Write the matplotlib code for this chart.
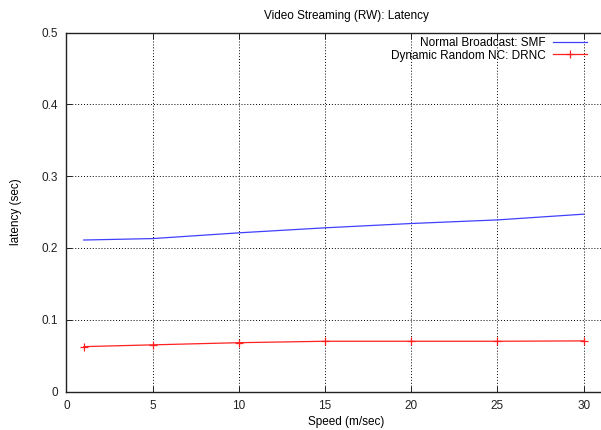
#!/usr/bin/env python3
"""
Video streaming latency vs node speed, SMF against DRNC (gnuplot-like look).
"""

import matplotlib
matplotlib.use('Agg')
import matplotlib.pyplot as plt

plt.rcParams['font.family'] = ['Liberation Sans', 'DejaVu Sans']

# Data
speed = [1, 5, 10, 15, 20, 25, 30]
latency_smf = [0.211, 0.213, 0.221, 0.228, 0.234, 0.239, 0.247]
latency_drnc = [0.0625, 0.065, 0.068, 0.070, 0.070, 0.070, 0.0705]

x_ticks = [0, 5, 10, 15, 20, 25, 30]
y_ticks = [0, 0.1, 0.2, 0.3, 0.4, 0.5]
y_labels = ['0', '0.1', '0.2', '0.3', '0.4', '0.5']

fs = 8.5
fig = plt.figure(figsize=(6.01, 4.30), dpi=100)
# the original plot is cut off on the right, so the box runs past the edge
ax = fig.add_axes([0.1106, 0.0895, 0.9323, 0.8349])

ax.plot(speed, latency_smf, color='#4040ff', linewidth=0.9,
        label='Normal Broadcast: SMF')
ax.plot(speed, latency_drnc, color='#ff2020', linewidth=0.9,
        marker='+', markersize=6, markeredgewidth=0.9,
        label='Dynamic Random NC: DRNC')

ax.set_xlim(0, 32.5)
ax.set_ylim(0, 0.5)
ax.set_xticks(x_ticks)
ax.set_yticks(y_ticks)
ax.set_yticklabels(y_labels)

# gnuplot style: dotted grid, ticks inside on all sides
ax.grid(True, color='black', linestyle=(0, (1, 2)), linewidth=0.7)
ax.tick_params(direction='in', length=4, width=0.7, top=True, right=True,
               labelsize=fs, colors='#222222', pad=6)
for s in ax.spines.values():
    s.set_linewidth(1.0)
    s.set_color('#222222')

ax.set_xlabel('Speed (m/sec)', fontsize=fs, labelpad=3)
ax.set_ylabel('latency (sec)', fontsize=fs, labelpad=14)
ax.set_title('Video Streaming (RW): Latency', fontsize=fs, pad=10)

leg = ax.legend(loc='upper right', bbox_to_anchor=(587 / 601, 0.914),
                bbox_transform=fig.transFigure, frameon=False, fontsize=fs,
                markerfirst=False, handlelength=2.9, handletextpad=0.6,
                borderaxespad=0, borderpad=0, labelspacing=0.05)
for t in leg.get_texts():
    t.set_ha('right')
leg._legend_box.align = 'right'

fig.savefig('out.png', dpi=100, facecolor='white')
